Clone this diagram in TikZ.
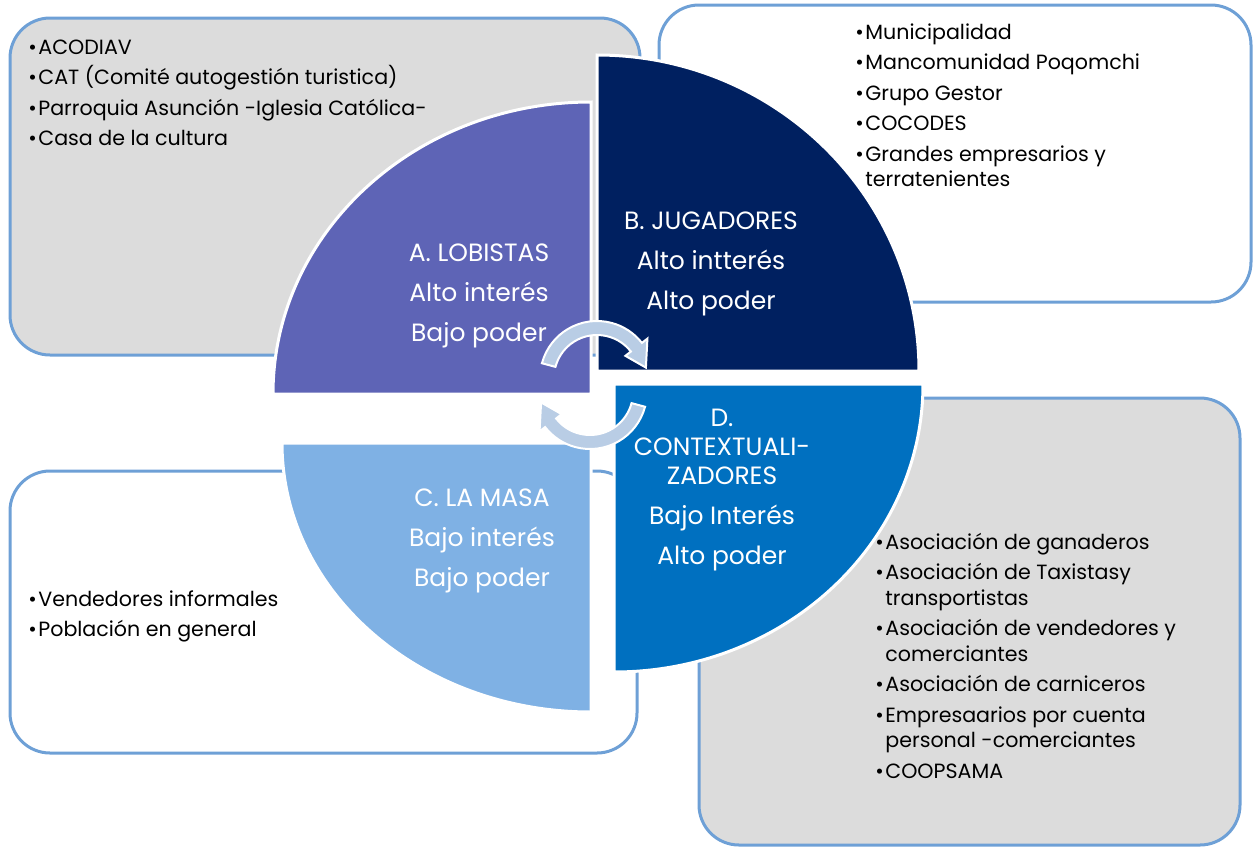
\documentclass[tikz,border=0pt]{standalone}
\usepackage{fontspec}
\setmainfont{Poppins}
\usetikzlibrary{positioning}

\definecolor{boxline}{RGB}{110,160,214}
\definecolor{boxgray}{RGB}{220,220,220}
\definecolor{lobby}{RGB}{94,100,182}
\definecolor{player}{RGB}{0,32,96}
\definecolor{crowd}{RGB}{127,177,228}
\definecolor{context}{RGB}{0,112,192}
\definecolor{arrowfill}{RGB}{185,205,229}

\newcommand{\blt}{\makebox[5pt][l]{\textbullet}}
\newcommand{\cnt}{\hspace*{5pt}}

\begin{document}
\begin{tikzpicture}[x=0.5pt,y=-0.5pt,
	actorbox/.style={draw=boxline,line width=1.5pt,rounded corners=20pt},
	quarter/.style={draw=white,line width=1.5pt},
	cyclearrow/.style={fill=arrowfill,draw=white,line width=1pt},
	grouplist/.style={anchor=north west,align=left,inner sep=0pt,font=\fontsize{10.3}{12.75}\selectfont},
	quadlabel/.style={anchor=north,align=center,inner sep=0pt,text=white,font=\fontsize{12.5}{20}\selectfont}]
	\useasboundingbox (0,0) rectangle (1254,847);
	% rounded boxes
	\draw[actorbox,fill=boxgray] (10,18) rectangle (640,355);
	\draw[actorbox,fill=white] (659,5) rectangle (1251,302);
	\draw[actorbox,fill=white] (10,471) rectangle (637,753);
	\draw[actorbox,fill=boxgray] (699,398) rectangle (1240,845);
	% member lists
	\node[grouplist] (lobbylist) at (28,36) {\rule{0pt}{9pt}\blt ACODIAV\\[2.5pt]
		\blt CAT (Comité autogestión turistica)\\[2.5pt]
		\blt Parroquia Asunción -Iglesia Católica-\\[2.5pt]
		\blt Casa de la cultura};
	\node[grouplist] (playerlist) at (855,21) {\rule{0pt}{9pt}\blt Municipalidad\\[2.5pt]
		\blt Mancomunidad Poqomchi\\[2.5pt]
		\blt Grupo Gestor\\[2.5pt]
		\blt COCODES\\[2.5pt]
		\blt Grandes empresarios y\\ \cnt terratenientes};
	\node[grouplist] (crowdlist) at (28,588) {\rule{0pt}{9pt}\blt Vendedores informales\\[2.5pt]
		\blt Población en general};
	\node[grouplist] (contextlist) at (875,531) {\rule{0pt}{9pt}\blt Asociación de ganaderos\\[2.5pt]
		\blt Asociación de Taxistasy\\ \cnt transportistas\\[2.5pt]
		\blt Asociación de vendedores y\\ \cnt comerciantes\\[2.5pt]
		\blt Asociación de carniceros\\[2.5pt]
		\blt Empresaarios por cuenta\\ \cnt personal -comerciantes\\[2.5pt]
		\blt COOPSAMA};
	% quadrants
	\filldraw[quarter,fill=lobby] (591,394) -- (273,394)
		arc[start angle=180,end angle=270,x radius=318,y radius=292] -- cycle;
	\filldraw[quarter,fill=player] (597,371) -- (597,55)
		arc[start angle=270,end angle=360,x radius=322,y radius=316] -- cycle;
	\filldraw[quarter,fill=context] (614,384) -- (923,384)
		arc[start angle=0,end angle=90,x radius=309,y radius=288] -- cycle;
	\filldraw[quarter,fill=crowd] (591,443) -- (591,712)
		arc[start angle=90,end angle=180,x radius=309,y radius=269] -- cycle;
	% cycle arrows
	\foreach \hx/\hy/\turn in {597/378/0,590/392/180}{
		\begin{scope}[shift={(\hx,\hy)},rotate=\turn]
			\draw[cyclearrow] (-165:43) -- (-165:57)
				arc[start angle=-165,end angle=-38,radius=57] -- (-38:64) -- (-12:50)
				-- (-38:36) -- (-38:43) arc[start angle=-38,end angle=-165,radius=43] -- cycle;
		\end{scope}
	}
	% quadrant labels
	\node[quadlabel] (lobbylabel) at (479,239) {\rule{0pt}{11pt}A. LOBISTAS\\ Alto interés\\ Bajo poder};
	\node[quadlabel] (playerlabel) at (711,207) {\rule{0pt}{11pt}B. JUGADORES\\ Alto intterés\\ Alto poder};
	\node[quadlabel] (crowdlabel) at (482,484) {\rule{0pt}{11pt}C. LA MASA\\ Bajo interés\\ Bajo poder};
	\node[quadlabel] (contextlabel) at (722,404) {\rule{0pt}{11pt}D.\\[-5.5pt] CONTEXTUALI-\\[-5.5pt]
		ZADORES\\ Bajo Interés\\ Alto poder};
\end{tikzpicture}
\end{document}
